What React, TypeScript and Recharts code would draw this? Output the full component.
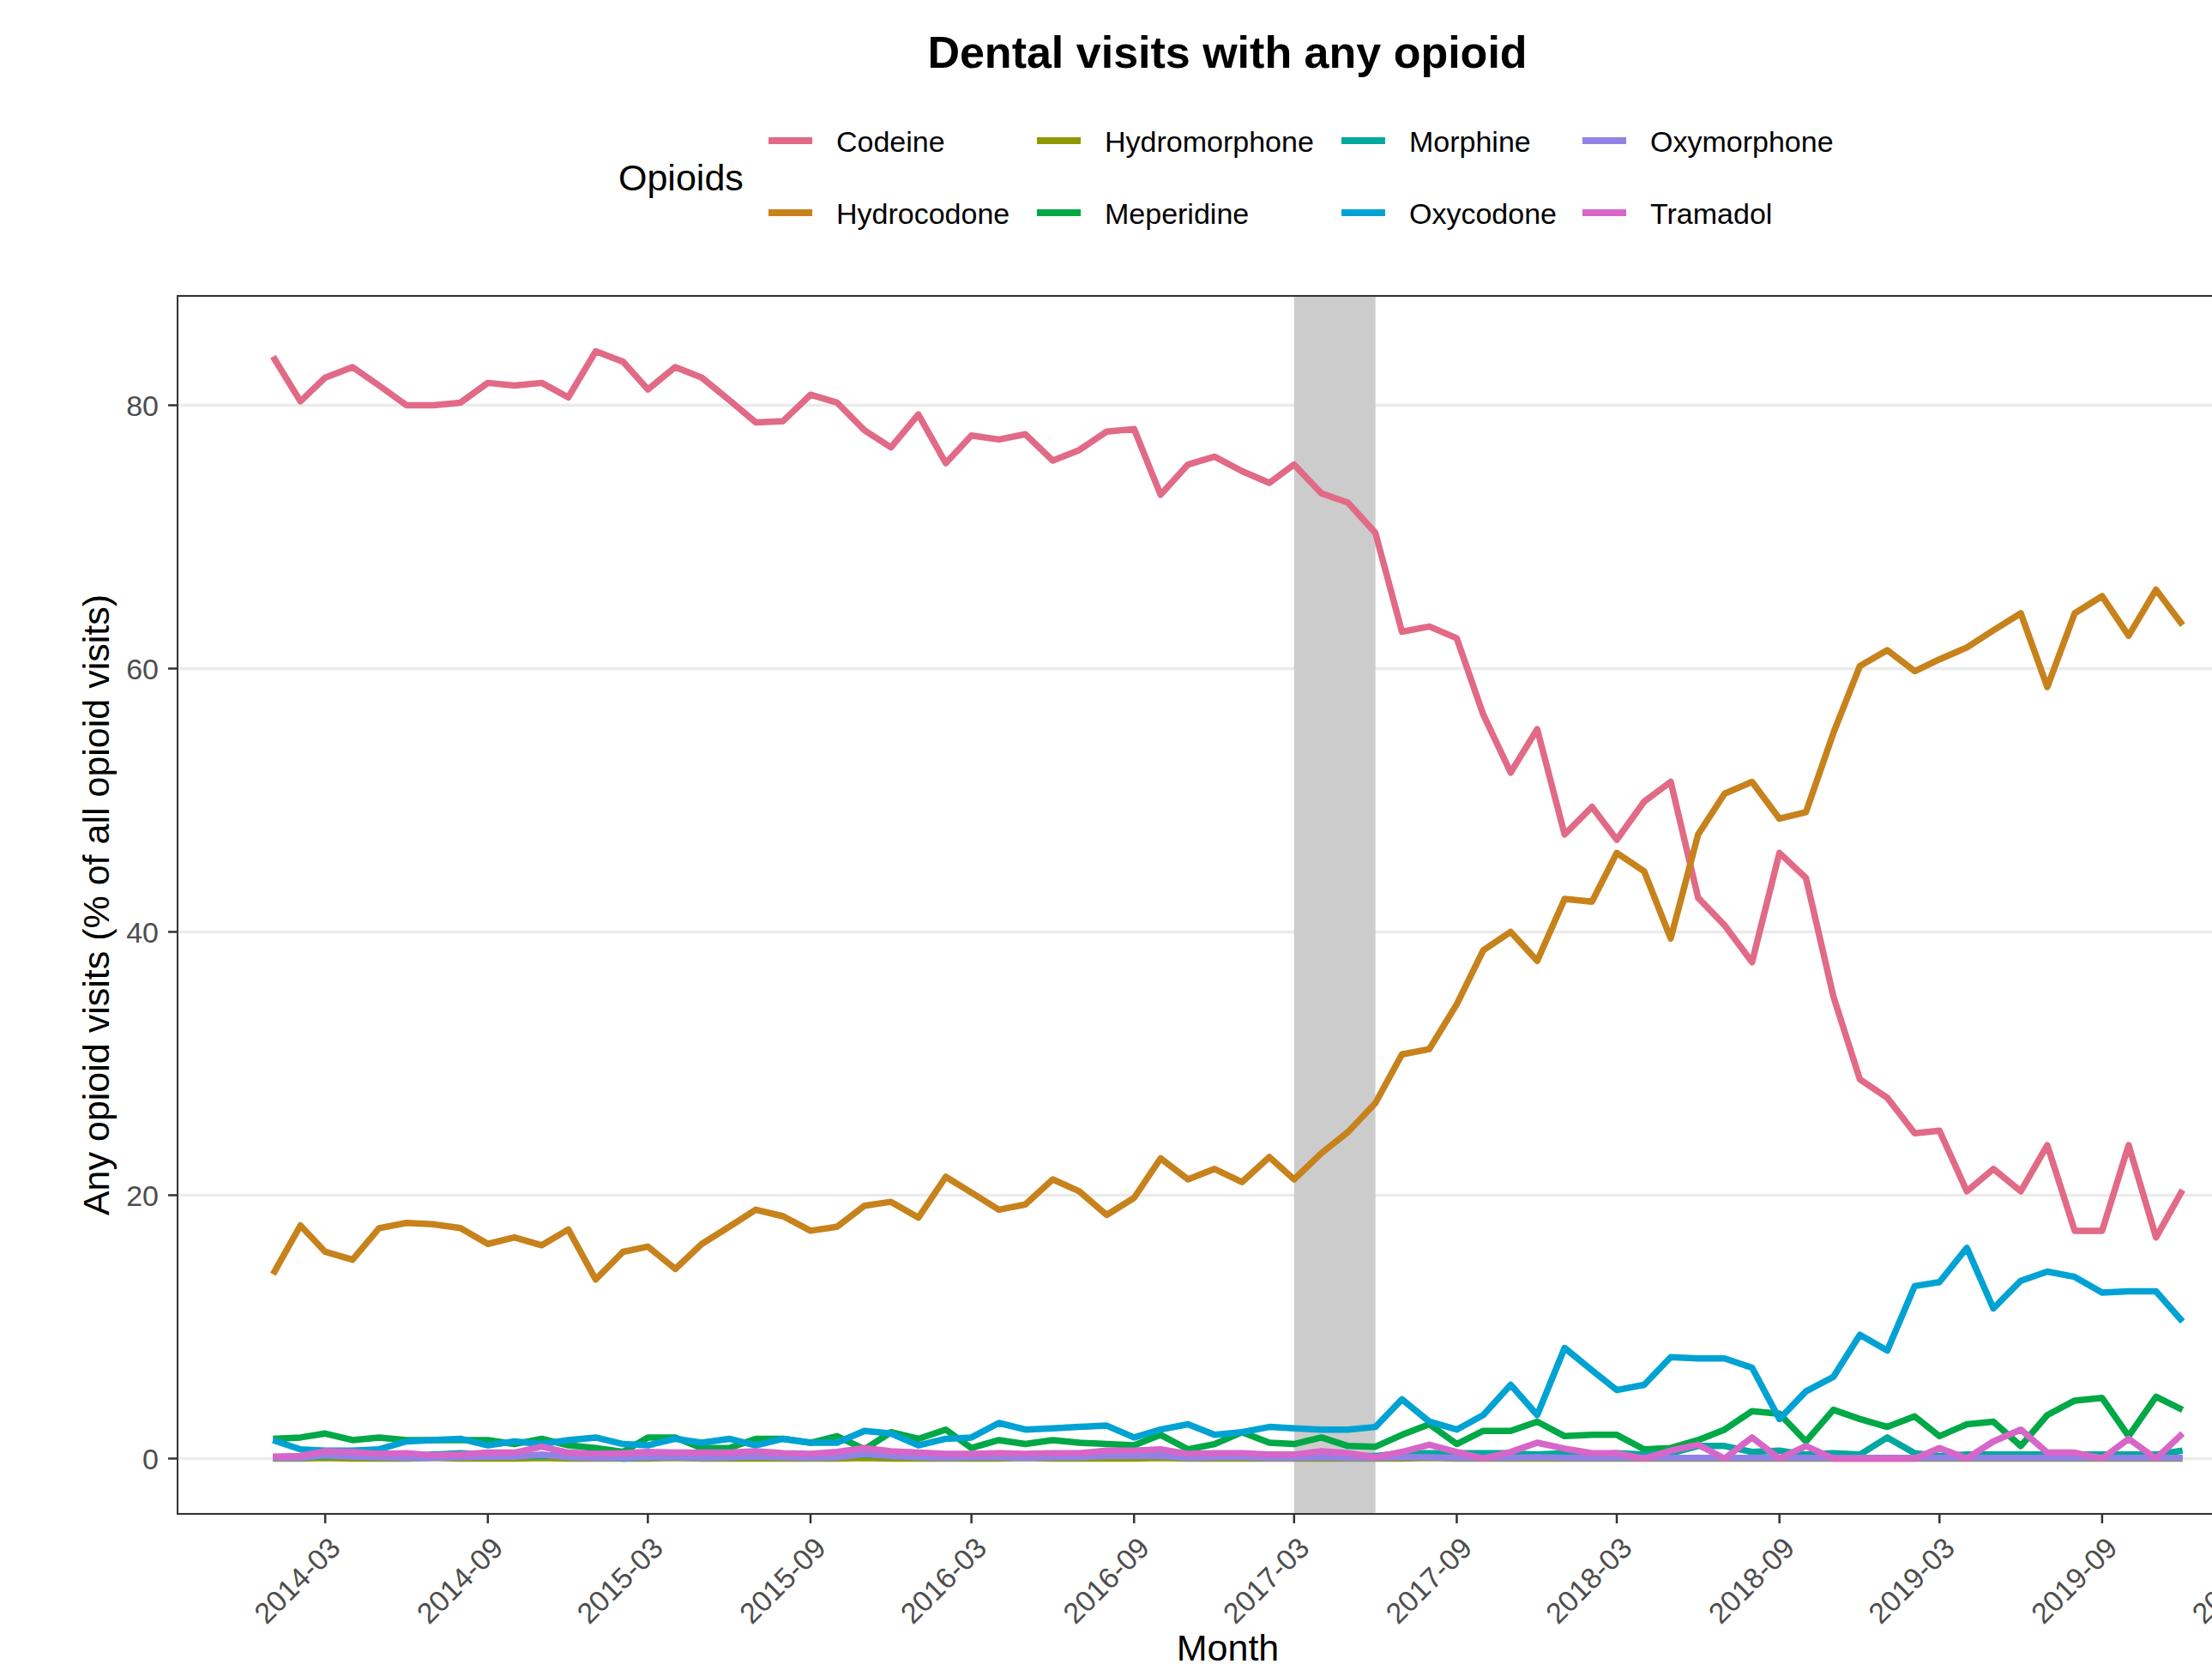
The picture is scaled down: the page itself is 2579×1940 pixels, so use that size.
import React from 'react';
import { LineChart, Line, XAxis, YAxis, CartesianGrid, ReferenceArea } from 'recharts';

const FONT = '"Liberation Sans", Arial, Helvetica, sans-serif';

// ---------- categories ----------
const START_MONTH = '2014-01';
const MONTH_COUNT = 72;

const X_TICK_LABELS = [
  '2014-03', '2014-09', '2015-03', '2015-09', '2016-03', '2016-09', '2017-03',
  '2017-09', '2018-03', '2018-09', '2019-03', '2019-09', '2020-03',
];
const Y_TICKS = [0, 20, 40, 60, 80];
const SHADED_PERIOD = ['2017-03', '2017-06'];

const TITLE = 'Dental visits with any opioid';
const LEGEND_TITLE = 'Opioids';
const X_TITLE = 'Month';
const Y_TITLE = 'Any opioid visits (% of all opioid visits)';

// ---------- series values (% of all opioid visits) ----------
const CODEINE = [
  83.7, 80.3, 82.1, 82.9, 81.5, 80.0, 80.0, 80.2, 81.7, 81.5, 81.7, 80.6,
  84.1, 83.3, 81.2, 82.9, 82.1, 80.4, 78.7, 78.8, 80.8, 80.2, 78.1, 76.8,
  79.3, 75.6, 77.7, 77.4, 77.8, 75.8, 76.6, 78.0, 78.2, 73.2, 75.5, 76.1,
  75.0, 74.1, 75.5, 73.3, 72.6, 70.3, 62.8, 63.2, 62.3, 56.5, 52.1, 55.4,
  47.4, 49.5, 47.0, 49.9, 51.4, 42.6, 40.5, 37.7, 46.0, 44.1, 35.1, 28.8,
  27.4, 24.7, 24.9, 20.3, 22.0, 20.3, 23.8, 17.3, 17.3, 23.8, 16.8, 20.4,
];
const HYDROCODONE = [
  14.0, 17.7, 15.7, 15.1, 17.5, 17.9, 17.8, 17.5, 16.3, 16.8, 16.2, 17.4,
  13.6, 15.7, 16.1, 14.4, 16.3, 17.6, 18.9, 18.4, 17.3, 17.6, 19.2, 19.5,
  18.3, 21.4, 20.2, 18.9, 19.3, 21.2, 20.3, 18.5, 19.8, 22.8, 21.2, 22.0,
  21.0, 22.9, 21.2, 23.2, 24.8, 27.0, 30.7, 31.1, 34.5, 38.6, 40.0, 37.8,
  42.5, 42.3, 46.0, 44.6, 39.5, 47.4, 50.5, 51.4, 48.6, 49.1, 55.1, 60.2,
  61.4, 59.8, 60.7, 61.6, 62.9, 64.2, 58.6, 64.2, 65.5, 62.5, 66.0, 63.3,
];
const HYDROMORPHONE = [
  0.0, 0.0, 0.05, 0.0, 0.0, 0.0, 0.05, 0.0, 0.0, 0.0, 0.05, 0.0,
  0.0, 0.0, 0.0, 0.05, 0.0, 0.0, 0.0, 0.0, 0.0, 0.0, 0.05, 0.0,
  0.0, 0.0, 0.0, 0.0, 0.05, 0.0, 0.0, 0.0, 0.0, 0.05, 0.0, 0.0,
  0.0, 0.0, 0.0, 0.0, 0.0, 0.0, 0.0, 0.05, 0.0, 0.0, 0.0, 0.0,
  0.0, 0.0, 0.0, 0.0, 0.0, 0.0, 0.0, 0.0, 0.0, 0.0, 0.0, 0.0,
  0.0, 0.0, 0.0, 0.0, 0.0, 0.0, 0.0, 0.0, 0.0, 0.0, 0.0, 0.0,
];
const MEPERIDINE = [
  1.5, 1.6, 1.9, 1.4, 1.6, 1.4, 1.4, 1.4, 1.4, 1.1, 1.5, 1.0,
  0.8, 0.5, 1.6, 1.6, 0.8, 0.8, 1.5, 1.5, 1.2, 1.7, 0.7, 2.0,
  1.5, 2.2, 0.8, 1.4, 1.1, 1.4, 1.2, 1.1, 1.0, 1.8, 0.7, 1.1,
  2.0, 1.2, 1.1, 1.6, 0.95, 0.9, 1.8, 2.6, 1.1, 2.1, 2.1, 2.8,
  1.7, 1.8, 1.8, 0.7, 0.8, 1.4, 2.2, 3.6, 3.4, 1.3, 3.7, 3.0,
  2.4, 3.2, 1.7, 2.6, 2.8, 0.95, 3.3, 4.4, 4.6, 1.7, 4.7, 3.7,
];
const MORPHINE = [
  0.1, 0.1, 0.2, 0.2, 0.1, 0.2, 0.3, 0.4, 0.3, 0.2, 0.2, 0.3,
  0.2, 0.0, 0.1, 0.2, 0.1, 0.1, 0.2, 0.3, 0.2, 0.2, 0.3, 0.2,
  0.2, 0.2, 0.1, 0.2, 0.2, 0.3, 0.2, 0.3, 0.2, 0.3, 0.2, 0.2,
  0.2, 0.3, 0.3, 0.2, 0.2, 0.2, 0.4, 0.4, 0.4, 0.4, 0.4, 0.3,
  0.4, 0.3, 0.4, 0.3, 0.4, 0.95, 0.95, 0.5, 0.6, 0.3, 0.4, 0.3,
  1.6, 0.4, 0.2, 0.3, 0.3, 0.3, 0.3, 0.3, 0.3, 0.3, 0.3, 0.6,
];
const OXYCODONE = [
  1.4, 0.7, 0.6, 0.6, 0.7, 1.3, 1.4, 1.5, 1.0, 1.3, 1.1, 1.4,
  1.6, 1.1, 1.0, 1.5, 1.2, 1.5, 1.0, 1.5, 1.2, 1.2, 2.1, 1.9,
  1.0, 1.5, 1.6, 2.7, 2.2, 2.3, 2.4, 2.5, 1.6, 2.2, 2.6, 1.8,
  2.0, 2.4, 2.3, 2.2, 2.2, 2.4, 4.5, 2.8, 2.2, 3.3, 5.6, 3.3,
  8.4, 6.7, 5.2, 5.6, 7.7, 7.6, 7.6, 6.9, 3.0, 5.1, 6.2, 9.4,
  8.2, 13.1, 13.4, 16.0, 11.4, 13.5, 14.2, 13.8, 12.6, 12.7, 12.7, 10.4,
];
const OXYMORPHONE = [
  0.05, 0.05, 0.25, 0.15, 0.1, 0.05, 0.05, 0.1, 0.15, 0.15, 0.3, 0.1,
  0.05, 0.05, 0.1, 0.1, 0.05, 0.1, 0.15, 0.1, 0.05, 0.1, 0.35, 0.2,
  0.1, 0.05, 0.1, 0.1, 0.05, 0.1, 0.1, 0.2, 0.2, 0.2, 0.05, 0.1,
  0.1, 0.05, 0.05, 0.1, 0.05, 0.05, 0.1, 0.1, 0.05, 0.05, 0.05, 0.1,
  0.05, 0.05, 0.05, 0.05, 0.05, 0.05, 0.05, 0.05, 0.05, 0.05, 0.05, 0.05,
  0.05, 0.05, 0.05, 0.05, 0.05, 0.05, 0.05, 0.05, 0.05, 0.05, 0.05, 0.05,
];
const TRAMADOL = [
  0.15, 0.2, 0.55, 0.5, 0.35, 0.4, 0.25, 0.3, 0.45, 0.45, 0.9, 0.45,
  0.35, 0.4, 0.5, 0.45, 0.45, 0.45, 0.55, 0.4, 0.35, 0.5, 0.8, 0.55,
  0.45, 0.35, 0.35, 0.4, 0.35, 0.4, 0.4, 0.6, 0.6, 0.7, 0.35, 0.4,
  0.4, 0.3, 0.3, 0.55, 0.4, 0.1, 0.5, 1.05, 0.5, 0.0, 0.5, 1.2,
  0.75, 0.4, 0.4, 0.0, 0.6, 1.05, 0.0, 1.6, 0.0, 0.95, 0.0, 0.0,
  0.0, 0.0, 0.8, 0.0, 1.3, 2.2, 0.45, 0.45, 0.0, 1.5, 0.0, 1.9,
];

const SERIES = [
  { name: 'Codeine', color: '#E16A86', values: CODEINE },
  { name: 'Hydrocodone', color: '#C7821C', values: HYDROCODONE },
  { name: 'Hydromorphone', color: '#909800', values: HYDROMORPHONE },
  { name: 'Meperidine', color: '#00A846', values: MEPERIDINE },
  { name: 'Morphine', color: '#00A89D', values: MORPHINE },
  { name: 'Oxycodone', color: '#00A2D3', values: OXYCODONE },
  { name: 'Oxymorphone', color: '#9183E6', values: OXYMORPHONE },
  { name: 'Tramadol', color: '#D766C9', values: TRAMADOL },
];

// ---------- helpers ----------
const toTime = (ym: string) => {
  const [y, m] = ym.split('-').map(Number);
  return Date.UTC(y, m - 1, 1);
};
const fmtMonth = (t: number) => {
  const d = new Date(t);
  return `${d.getUTCFullYear()}-${String(d.getUTCMonth() + 1).padStart(2, '0')}`;
};
const monthList = (start: string, n: number) => {
  const [y0, m0] = start.split('-').map(Number);
  const out: string[] = [];
  for (let i = 0; i < n; i++) {
    const k = m0 - 1 + i;
    out.push(`${y0 + Math.floor(k / 12)}-${String((k % 12) + 1).padStart(2, '0')}`);
  }
  return out;
};

const MONTHS = monthList(START_MONTH, MONTH_COUNT);
const data = MONTHS.map((m, i) => {
  const row: Record<string, number> = { t: toTime(m) };
  SERIES.forEach((s) => {
    row[s.name] = s.values[i];
  });
  return row;
});

// ggplot-like 5% expansion
const tMin = toTime(MONTHS[0]);
const tMax = toTime(MONTHS[MONTHS.length - 1]);
const tPad = (tMax - tMin) * 0.05;
const X_DOMAIN: [number, number] = [tMin - tPad, tMax + tPad];
const allVals = SERIES.flatMap((s) => s.values);
const vMin = Math.min(...allVals);
const vMax = Math.max(...allVals);
const vPad = (vMax - vMin) * 0.05;
const Y_DOMAIN: [number, number] = [vMin - vPad, vMax + vPad];
const X_TICKS = X_TICK_LABELS.map(toTime);

// ---------- layout ----------
const CHART_W = 2680;
const CHART_H = 1940;
const LEGEND_COL_X = [896, 1209, 1564, 1845];
const LEGEND_ROW_Y = [164, 248];

const renderXTick = (props: any) => {
  const { x, y, payload } = props;
  return (
    <text
      x={x}
      y={y}
      dy={28}
      textAnchor="end"
      transform={`rotate(-45 ${x} ${y})`}
      fill="#4D4D4D"
      fontSize={34}
      fontFamily={FONT}
    >
      {fmtMonth(payload.value)}
    </text>
  );
};

const renderXTitle = (props: any) => {
  const vb = props && props.viewBox ? props.viewBox : { x: 207, y: 1765, width: 2449, height: 175 };
  return (
    <text x={vb.x + vb.width / 2} y={vb.y + 171} textAnchor="middle" fill="#000" fontSize={43} fontFamily={FONT}>
      {X_TITLE}
    </text>
  );
};

const renderYTitle = (props: any) => {
  const vb = props && props.viewBox ? props.viewBox : { x: 0, y: 345, width: 207, height: 1420 };
  const cx = vb.x + 112;
  const cy = vb.y + vb.height / 2;
  return (
    <text
      x={cx}
      y={cy}
      transform={`rotate(-90 ${cx} ${cy})`}
      textAnchor="middle"
      dominantBaseline="central"
      fill="#000"
      fontSize={43}
      fontFamily={FONT}
    >
      {Y_TITLE}
    </text>
  );
};

export default function App() {
  return (
    <div
      style={{
        position: 'absolute',
        left: 0,
        top: 0,
        width: 2579,
        height: 1940,
        overflow: 'hidden',
        background: '#ffffff',
      }}
    >
      <LineChart
        width={CHART_W}
        height={CHART_H}
        data={data}
        margin={{ top: 345, right: 24, bottom: 0, left: 0 }}
      >
        <CartesianGrid vertical={false} stroke="#EBEBEB" strokeWidth={3.5} />
        <ReferenceArea
          x1={toTime(SHADED_PERIOD[0])}
          x2={toTime(SHADED_PERIOD[1])}
          fill="#CCCCCC"
          fillOpacity={1}
          stroke="none"
        />
        <XAxis
          dataKey="t"
          type="number"
          domain={X_DOMAIN}
          ticks={X_TICKS}
          interval={0}
          allowDataOverflow
          height={175}
          tickSize={11}
          tickMargin={11}
          axisLine={false}
          tickLine={{ stroke: '#333333', strokeWidth: 2.5 }}
          tick={renderXTick}
          label={renderXTitle}
        />
        <YAxis
          type="number"
          domain={Y_DOMAIN}
          ticks={Y_TICKS}
          interval={0}
          allowDataOverflow
          width={207}
          tickSize={11}
          tickMargin={11}
          axisLine={false}
          tickLine={{ stroke: '#333333', strokeWidth: 2.5 }}
          tick={{ fill: '#4D4D4D', fontSize: 34, fontFamily: FONT }}
          label={renderYTitle}
        />
        {SERIES.map((s) => (
          <Line
            key={s.name}
            type="linear"
            dataKey={s.name}
            stroke={s.color}
            strokeWidth={7.5}
            strokeLinejoin="round"
            dot={false}
            activeDot={false}
            isAnimationActive={false}
          />
        ))}
        <ReferenceArea
          x1={X_DOMAIN[0]}
          x2={X_DOMAIN[1]}
          y1={Y_DOMAIN[0]}
          y2={Y_DOMAIN[1]}
          fill="none"
          fillOpacity={0}
          stroke="#333333"
          strokeWidth={2}
        />
      </LineChart>
      <svg
        width={2579}
        height={340}
        style={{ position: 'absolute', left: 0, top: 0, pointerEvents: 'none' }}
        fontFamily={FONT}
      >
        <text x={1431} y={79} textAnchor="middle" fontWeight="bold" fontSize={52} fill="#000">
          {TITLE}
        </text>
        <text x={721} y={222} fontSize={43} fill="#000">
          {LEGEND_TITLE}
        </text>
        {SERIES.map((s, k) => {
          const kx = LEGEND_COL_X[Math.floor(k / 2)];
          const ky = LEGEND_ROW_Y[k % 2];
          return (
            <g key={s.name}>
              <line x1={kx} x2={kx + 51} y1={ky} y2={ky} stroke={s.color} strokeWidth={8} />
              <text x={kx + 79} y={ky + 13} fontSize={34} fill="#000">
                {s.name}
              </text>
            </g>
          );
        })}
      </svg>
    </div>
  );
}
